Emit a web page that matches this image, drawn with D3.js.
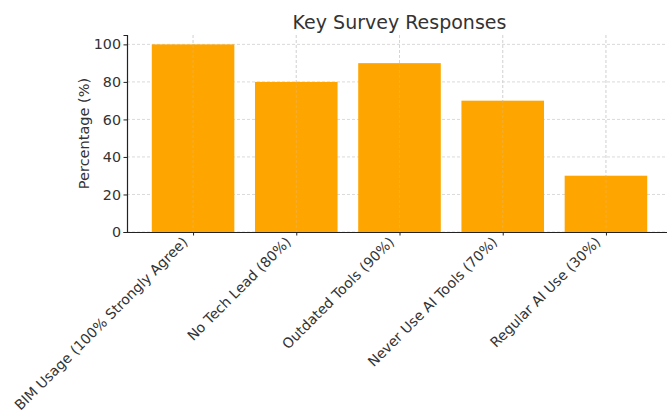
<!DOCTYPE html>
<html>
<head>
<meta charset="utf-8">
<script src="https://cdn.jsdelivr.net/npm/d3@7"></script>
<style>
  body { margin: 0; background: #fff; }
  svg { display: block; }
  svg text { font-family: "DejaVu Sans", sans-serif; }
</style>
</head>
<body>
<svg width="667" height="416"></svg>
<script>
var categories = [
  'BIM Usage (100% Strongly Agree)',
  'No Tech Lead (80%)',
  'Outdated Tools (90%)',
  'Never Use AI Tools (70%)',
  'Regular AI Use (30%)'
];
var values = [100, 80, 90, 70, 30];
var yTicks = [0, 20, 40, 60, 80, 100];

function drawChart() {
  var svg = d3.select('svg');
  var left = 127, right = 672, top = 35, bottom = 232;
  var textColor = '#333';

  // linear x like matplotlib: bars at 0..n-1, margins of 5%
  var x = d3.scaleLinear()
    .domain([-0.64, categories.length - 1 + 0.64])
    .range([left, right]);
  var y = d3.scaleLinear()
    .domain([0, 105])
    .range([bottom, top]);
  var barWidth = x(0.8) - x(0);

  var g = svg.append('g');

  // grid
  g.selectAll('.hgrid')
    .data(yTicks)
    .enter()
    .append('line')
    .attr('x1', left)
    .attr('x2', right)
    .attr('y1', function (d) { return y(d); })
    .attr('y2', function (d) { return y(d); })
    .attr('stroke', '#d0d0d0')
    .attr('stroke-width', 0.8)
    .attr('stroke-dasharray', '3,2');
  g.selectAll('.vgrid')
    .data(categories)
    .enter()
    .append('line')
    .attr('x1', function (d, i) { return x(i); })
    .attr('x2', function (d, i) { return x(i); })
    .attr('y1', top)
    .attr('y2', bottom)
    .attr('stroke', '#d0d0d0')
    .attr('stroke-width', 0.8)
    .attr('stroke-dasharray', '3,2');

  // bars
  g.selectAll('rect')
    .data(values)
    .enter()
    .append('rect')
    .attr('x', function (d, i) { return x(i) - barWidth / 2; })
    .attr('y', function (d) { return y(d); })
    .attr('width', barWidth)
    .attr('height', function (d) { return bottom - y(d); })
    .attr('fill', '#ffa500');

  // grid lines show faintly over the bars in the picture
  g.selectAll('.vgrid2')
    .data(categories)
    .enter()
    .append('line')
    .attr('x1', function (d, i) { return x(i); })
    .attr('x2', function (d, i) { return x(i); })
    .attr('y1', top)
    .attr('y2', bottom)
    .attr('stroke', '#c8c8c8')
    .attr('stroke-opacity', 0.35)
    .attr('stroke-width', 0.8)
    .attr('stroke-dasharray', '3,2');

  // y axis
  var yAxis = g.append('g')
    .attr('transform', 'translate(' + left + ',0)')
    .call(d3.axisLeft(y).tickValues(yTicks).tickSize(3.5).tickPadding(2.5));
  yAxis.attr('font-family', null).attr('font-size', null);
  yAxis.select('.domain').attr('stroke', '#222').attr('stroke-width', 1.2);
  yAxis.selectAll('.tick line').attr('stroke', '#222');
  yAxis.selectAll('text')
    .attr('fill', textColor)
    .style('font-size', '14.3px');

  // x axis
  var xAxis = g.append('g')
    .attr('transform', 'translate(0,' + bottom + ')')
    .call(d3.axisBottom(x)
      .tickValues(d3.range(categories.length))
      .tickFormat(function (i) { return categories[i]; })
      .tickSize(3.5)
      .tickSizeOuter(0));
  xAxis.attr('font-family', null).attr('font-size', null);
  xAxis.select('.domain').attr('stroke', '#222').attr('stroke-width', 1.2);
  xAxis.selectAll('.tick line').attr('stroke', '#222');
  xAxis.selectAll('text')
    .attr('fill', textColor)
    .style('font-size', '14px')
    .attr('text-anchor', 'end')
    .attr('dy', null)
    .attr('y', 0)
    .attr('transform', 'translate(-5,11) rotate(-45)');

  // title
  svg.append('text')
    .attr('x', (left + right) / 2)
    .attr('y', 29)
    .attr('text-anchor', 'middle')
    .attr('fill', textColor)
    .style('font-size', '19px')
    .text('Key Survey Responses');

  // y label
  svg.append('text')
    .attr('transform', 'translate(89,' + (top + bottom) / 2 + ') rotate(-90)')
    .attr('text-anchor', 'middle')
    .attr('fill', textColor)
    .style('font-size', '14.5px')
    .text('Percentage (%)');
}

drawChart();
</script>
</body>
</html>
